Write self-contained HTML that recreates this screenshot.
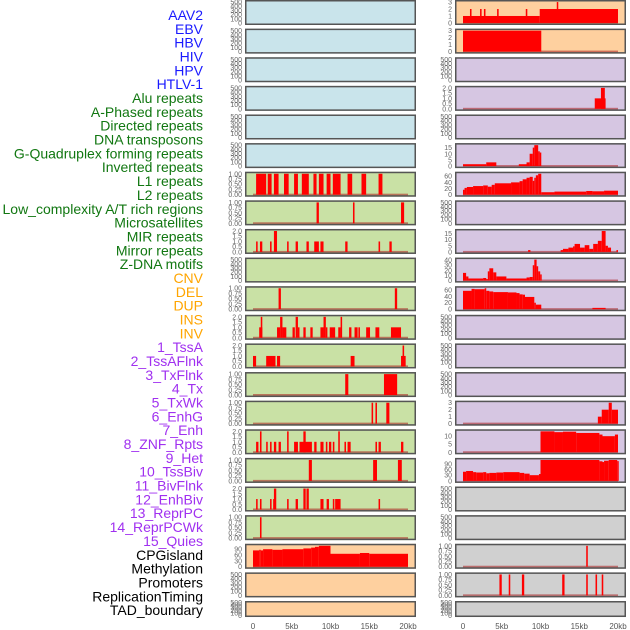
<!DOCTYPE html>
<html><head><meta charset="utf-8"><style>
html,body{margin:0;padding:0;background:#fff;width:630px;height:630px;overflow:hidden}
svg{display:block;font-family:"Liberation Sans",sans-serif}
</style></head><body>
<svg id="chart" width="630" height="630" viewBox="0 0 630 630"></svg>
<script>
const labels=["AAV2","EBV","HBV","HIV","HPV","HTLV-1","Alu repeats","A-Phased repeats","Directed repeats","DNA transposons","G-Quadruplex forming repeats","Inverted repeats","L1 repeats","L2 repeats","Low_complexity A/T rich regions","Microsatellites","MIR repeats","Mirror repeats","Z-DNA motifs","CNV","DEL","DUP","INS","INV","1_TssA","2_TssAFlnk","3_TxFlnk","4_Tx","5_TxWk","6_EnhG","7_Enh","8_ZNF_Rpts","9_Het","10_TssBiv","11_BivFlnk","12_EnhBiv","13_ReprPC","14_ReprPCWk","15_Quies","CPGisland","Methylation","Promoters","ReplicationTiming","TAD_boundary"];
const labelGroups=[0,0,0,0,0,0,1,1,1,1,1,1,1,1,1,1,1,1,1,2,2,2,2,2,3,3,3,3,3,3,3,3,3,3,3,3,3,3,3,4,4,4,4,4];
const xTickLabels=["0","5kb","10kb","15kb","20kb"];
const xTickValues=[0,5,10,15,20];
const T500=["0","100","200","300","400","500"];
const T1=["0.00","0.25","0.50","0.75","1.00"];
const T2=["0.0","0.5","1.0","1.5","2.0"];
const T3=["0","1","2","3"];
const T15=["0","5","10","15"];
const T10=["0","5","10"];
const T40=["0","10","20","30","40"];
const T60=["0","20","40","60"];
const T90=["0","30","60","90"];
// segments [startKb, endKb, value]
const L6=[[0.4,1.7,1],[1.9,2.4,1],[2.7,3.3,1],[4.0,4.6,1],[5.3,5.8,1],[6.3,7.2,1],[7.8,8.2,1],[8.5,9.1,1],[9.5,10.0,1],[10.3,11.3,1],[12.2,12.8,1],[14.0,14.6,1],[16.2,16.7,1]];
const L7=[[8.2,8.5,1],[12.9,13.1,1],[19.1,19.5,1]];
const L8=[[0.4,0.6,1],[0.9,1.2,1],[2.2,2.4,1],[2.7,3.1,2],[4.4,4.6,1],[5.5,5.8,1],[6.9,7.2,1],[7.9,8.5,1],[8.7,9.1,1],[11.9,12.2,1],[16.2,16.4,1],[17.6,17.9,1]];
const L10=[[3.3,3.6,1],[18.3,18.6,1]];
const L11=[[0.8,1.2,1],[1.0,1.2,2],[3.1,3.5,1],[3.5,3.8,2],[3.8,4.3,1],[5.1,5.4,1],[5.5,5.8,2],[5.8,6.0,1],[6.5,6.8,1],[7.4,7.7,1],[8.7,9.1,1],[9.1,9.4,2],[9.4,9.6,1],[9.9,10.6,1],[11.0,11.3,1],[11.3,11.5,2],[12.4,12.7,1],[13.1,13.5,1],[13.6,13.8,1],[14.6,15.1,1],[15.8,16.3,1],[17.8,19.1,1]];
const L12=[[0,0.4,1],[1.7,2.9,1],[3.1,3.5,1],[12.6,13.1,1],[19.1,19.7,1],[19.3,19.5,2]];
const L13=[[11.9,12.3,1],[16.9,18.6,1]];
const L14=[[15.3,15.5,1],[15.8,16.0,1],[17.2,17.6,1]];
const L15=[[0.4,0.7,1],[0.9,1.1,2],[1.7,1.9,1],[2.2,2.4,1],[2.7,3.0,1],[3.3,3.6,1],[4.4,4.6,2],[5.3,5.8,1],[6.0,7.6,1],[6.5,6.8,2],[7.9,8.2,1],[8.7,9.1,1],[9.4,9.6,1],[9.8,10.1,1],[10.3,10.5,1],[11.0,11.2,2],[11.8,12.0,1],[12.2,12.6,1],[15.8,16.0,1],[16.2,16.5,1],[19.1,19.4,1]];
const L16=[[7.2,7.6,1],[15.5,16.0,1],[18.7,19.2,1]];
const L17=[[0.4,0.6,1],[0.9,1.1,1],[2.2,2.4,1],[2.6,2.8,1],[2.7,3.0,2],[4.4,4.6,1],[5.5,5.8,1],[6.5,6.8,2],[6.9,7.2,2],[8.7,9.1,1],[9.5,9.8,1],[10.3,10.5,1],[10.6,11.3,1],[16.2,16.4,1]];
const L18=[[0.9,1.1,1]];
const L19=[[0,0.8,82],[0.8,1.0,85],[1.0,1.3,82],[1.3,2.5,88],[2.5,3.8,85],[3.8,6.5,88],[6.5,7.5,92],[7.5,8.0,96],[8.0,8.5,100],[8.5,10.0,105],[10.0,13.8,65],[13.8,15.0,69],[15.0,20.0,65]];
const R0=[[0,9.9,1],[0.9,1.1,2],[2.2,2.4,2],[2.7,2.9,2],[4.4,4.6,2],[8.1,8.3,2],[9.9,20,2],[12.1,12.2,3]];
const R1=[[0,10.1,3]];
const R3=[[17.0,18.4,1],[17.8,18.3,2]];
const R5=[[0,3.0,1.5],[3.0,4.3,3],[7.2,8.6,1.5],[8.2,8.6,3],[8.6,9.0,10],[9.0,9.2,15],[9.2,9.7,17],[9.7,9.9,12],[9.9,10.1,11]];
const R6=[[0,0.2,16],[0.2,0.5,22],[0.5,1.3,25],[1.3,2.6,28],[2.6,3.2,30],[3.2,3.7,26],[3.7,4.1,32],[4.1,6.2,37],[6.2,7.3,40],[7.3,7.7,44],[7.7,8.2,50],[8.2,8.6,55],[8.6,9.0,58],[9.0,9.2,45],[9.2,9.4,55],[9.4,9.7,63],[9.7,10.1,68],[10.1,11.8,8],[11.8,15.9,10],[15.9,16.7,12],[16.7,18.2,11],[18.2,20,13]];
const R8=[[8.4,8.7,1.5],[12.6,12.9,1.5],[12.9,13.6,2.5],[13.6,14.2,3.5],[14.2,14.4,4.5],[14.4,15.1,6.5],[15.1,15.7,3.5],[15.7,16.3,5.5],[16.3,16.8,2.5],[16.8,17.4,6.5],[17.4,17.9,9],[17.9,18.4,17],[18.4,18.7,5],[18.7,19.1,3.5],[19.8,20,1.5]];
const R9=[[0,0.4,15],[0.4,0.7,8],[0.7,2.6,4],[2.6,3.0,5],[3.0,3.2,3],[3.2,3.4,18],[3.4,3.9,24],[3.9,4.3,16],[4.3,5.6,8],[5.6,8.2,4],[8.2,8.6,6],[8.6,9.0,7],[9.0,9.2,30],[9.2,9.5,41],[9.5,9.7,28],[9.7,9.96,18],[9.96,10.1,12]];
const R10=[[0,1.1,57],[1.1,1.5,63],[1.5,2.8,62],[2.8,3.0,65],[3.0,3.4,57],[3.4,3.9,55],[3.9,5.8,53],[5.8,6.9,52],[6.9,7.3,50],[7.3,7.7,46],[7.7,8.0,45],[8.0,9.2,38],[9.2,9.4,20],[9.4,10.1,14],[16.7,18.4,4]];
const R14=[[17.4,17.9,1],[17.9,18.8,2],[18.8,19.2,3],[19.2,20,2]];
const R15=[[10.0,11.8,13],[11.8,12.9,12.5],[12.9,14.6,12.8],[14.6,17.6,12],[17.6,18.0,11],[18.0,19.6,10],[19.6,20,11]];
const R16=[[0,0.4,48],[0.4,1.3,52],[1.3,1.7,46],[1.7,2.6,44],[2.6,3.0,46],[3.0,3.4,40],[3.4,4.3,42],[4.3,5.2,44],[5.2,7.3,46],[7.3,7.9,42],[7.9,8.6,38],[8.6,9.8,30],[9.8,10.0,36],[10.0,17.6,110],[17.6,18.0,103],[18.0,18.2,99],[18.2,18.8,106],[18.8,19.9,110],[19.9,20,104]];
const R19=[[15.9,16.1,1]];
const R20=[[4.7,5.0,1],[5.9,6.1,1],[7.6,7.9,1],[12.8,13.1,1],[15.9,16.1,1],[17.1,17.3,1],[17.9,18.1,1]];

const leftData=[null,null,null,null,null,null,L6,L7,L8,null,L10,L11,L12,L13,L14,L15,L16,L17,L18,L19,null,null];
const leftTicks=[T500,T500,T500,T500,T500,T500,T1,T1,T2,T500,T1,T2,T2,T1,T1,T2,T1,T2,T1,T90,T500,T500];
const rightData=[R0,R1,null,R3,null,R5,R6,null,R8,R9,R10,null,null,null,R14,R15,R16,null,null,R19,R20,null];
const rightTicks=[T3,T3,T500,T2,T500,T15,T60,T500,T15,T40,T60,T500,T500,T500,T3,T10,T90,T500,T500,T1,T1,T500];

const groupColors=["#1a1aff","#117711","#ffa500","#a030f0","#000000"];
const leftBg=r=>r<6?"#c9e4eb":(r<19?"#c9e1a5":"#fed09f");
const rightBg=r=>r<2?"#fed09f":(r<17?"#d6c6e2":"#d0d0d0");

const NS="http://www.w3.org/2000/svg";
const svg=document.getElementById('chart');
function mk(tag,attrs,parent){const e=document.createElementNS(NS,tag);for(const k in attrs)e.setAttribute(k,attrs[k]);(parent||svg).appendChild(e);return e;}

labels.forEach((t,i)=>{
  const el=mk('text',{x:203,y:15+i*13.84+5,'text-anchor':'end','font-size':'14',fill:groupColors[labelGroups[i]]});
  el.textContent=t;
  
  
});

function panel(col,row,segs,ticks){
  const px=col===0?245:455, pw=171;
  const top=row*28.62, h=row===21?16:25;
  const g=mk('g',{});
  
  
  const bgc=col===0?leftBg(row):rightBg(row);
  mk('rect',{x:px,y:top,width:pw,height:h,fill:bgc},g);
  const x0=px+8, xs=(pw-16)/20;
  const xScale=kb=>x0+kb*xs;
  const tickMax=parseFloat(ticks[ticks.length-1]);
  let M=tickMax;
  if(segs){M=Math.max(...segs.map(s=>s[2]));}
  const lo=-0.05*M, hi=1.05*M;
  const yScale=v=>top+h-1-(v-lo)/(hi-lo)*(h-2);
  if(segs){
    const base=mk('rect',{x:xScale(0),y:yScale(0)-1,width:xScale(20)-xScale(0),height:2,fill:'rgba(170,30,30,0.55)'},g);
    
    
    segs.forEach(s=>{
      const y=yScale(s[2]);
      const b=mk('rect',{x:xScale(s[0]),y:Math.max(top,y),width:Math.max(1.5,xScale(s[1])-xScale(s[0])),height:yScale(0)-Math.max(top,y),fill:'#ff0000'},g);
      
      
    });
  }
  ticks.forEach(t=>{
    const v=parseFloat(t);
    const yy=yScale(v);
    const tx=mk('text',{x:px-3,y:yy+2.5,'text-anchor':'end','font-size':'7',fill:'#666'},g);
    tx.textContent=t;
    
    
  });
  mk('rect',{x:px+0.75,y:top+0.75,width:pw-1.5,height:h-1.5,fill:'none',stroke:'#555','stroke-width':1.5},g);
}
for(let r=0;r<22;r++){panel(0,r,leftData[r],leftTicks[r]);panel(1,r,rightData[r],rightTicks[r]);}

[0,1].forEach(col=>{
  const x0=(col===0?245:455)+8, xs=155/20;
  xTickValues.forEach((v,i)=>{
    const t=mk('text',{x:x0+v*xs,y:629,'text-anchor':'middle','font-size':'8',fill:'#555'});
    t.textContent=xTickLabels[i];
    
    
  });
});
</script>
</body></html>
